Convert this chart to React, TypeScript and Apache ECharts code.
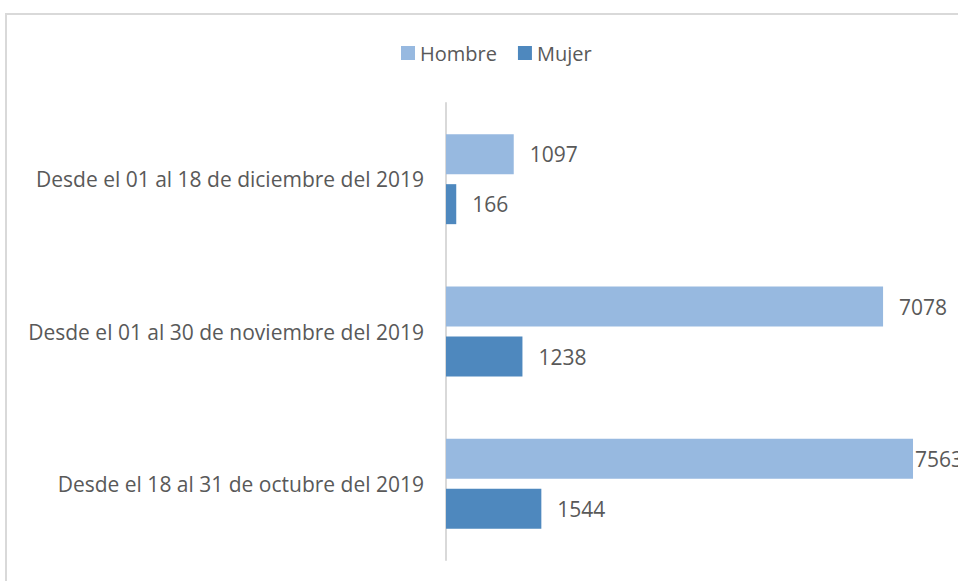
import React, { useEffect, useRef } from "react";
import * as echarts from "echarts";

const categories = [
  "Desde el 18 al 31 de octubre del 2019",
  "Desde el 01 al 30 de noviembre del 2019",
  "Desde el 01 al 18 de diciembre del 2019",
];
const hombre = [7563, 7078, 1097];
const mujer = [1544, 1238, 166];

const FONT = "'Open Sans', sans-serif";
const TEXT = "#595959";

export default function App() {
  const ref = useRef<HTMLDivElement>(null);
  useEffect(() => {
    if (!ref.current) return;
    const chart = echarts.init(ref.current, null, { renderer: "svg" });
    const label = {
      show: true,
      position: "right",
      distance: 16,
      color: TEXT,
      fontSize: 21,
      fontFamily: FONT,
    };
    chart.setOption({
      animation: false,
      textStyle: { fontFamily: FONT },
      graphic: [
        {
          type: "rect",
          shape: { x: 6, y: 14, width: 1200, height: 1000 },
          style: { fill: "none", stroke: "#d9d9d9", lineWidth: 2 },
          silent: true,
        },
      ],
      legend: {
        data: ["Hombre", "Mujer"],
        top: 38,
        left: 396,
        icon: "rect",
        itemWidth: 14,
        itemHeight: 14,
        itemGap: 21,
        textStyle: { color: TEXT, fontSize: 20, fontFamily: FONT },
      },
      grid: { left: 446, right: 18, top: 103, bottom: 21, containLabel: false },
      xAxis: {
        type: "value",
        min: 0,
        max: 8000,
        show: false,
      },
      yAxis: {
        type: "category",
        data: categories,
        axisLine: { show: true, lineStyle: { color: "#d9d9d9", width: 2 } },
        axisTick: { show: false },
        axisLabel: { color: TEXT, fontSize: 21, fontFamily: FONT, margin: 22 },
        splitLine: { show: false },
      },
      series: [
        {
          name: "Hombre",
          type: "bar",
          data: hombre.map((v, i) =>
            i === 0 ? { value: v, label: { distance: 2 } } : v
          ),
          itemStyle: { color: "#97B9E0" },
          barWidth: 40,
          barGap: "25%",
          label,
        },
        {
          name: "Mujer",
          type: "bar",
          data: mujer,
          itemStyle: { color: "#4E88BE" },
          barWidth: 40,
          barGap: "25%",
          label,
        },
      ],
    });
    return () => chart.dispose();
  }, []);
  return (
    <div
      ref={ref}
      style={{ position: "fixed", left: 0, top: 0, width: 958, height: 581, background: "#fff" }}
    />
  );
}
